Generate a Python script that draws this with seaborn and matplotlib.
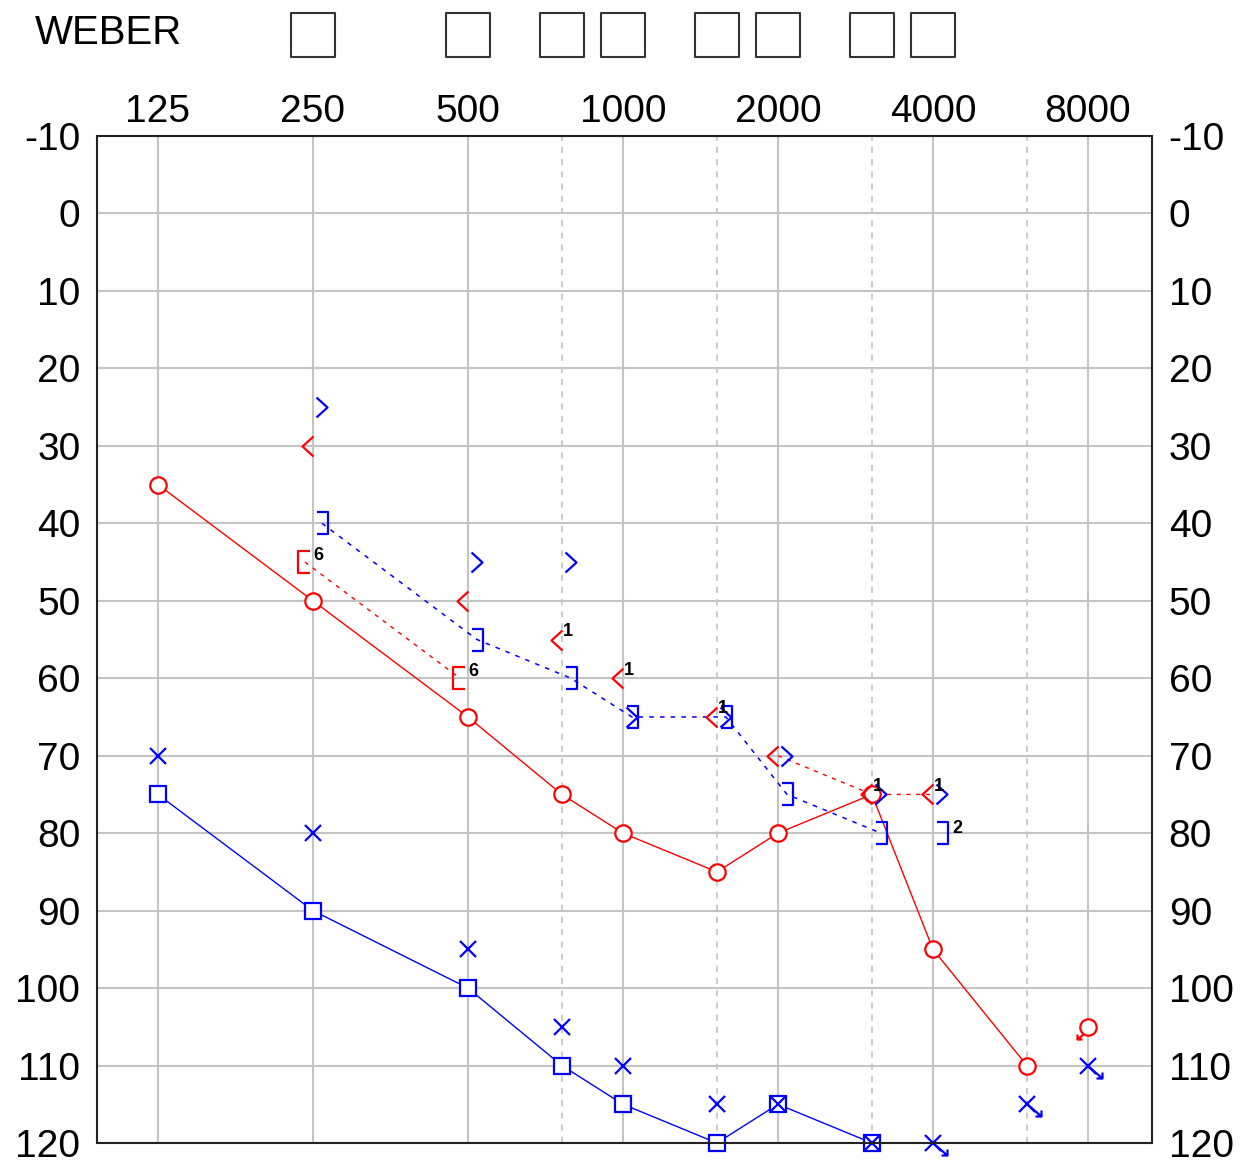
import numpy as np
import matplotlib
matplotlib.use("Agg")
import matplotlib.pyplot as plt
import seaborn as sns
from matplotlib.path import Path
from matplotlib.transforms import ScaledTranslation

# ---------------- data ----------------
major_freqs = [125, 250, 500, 1000, 2000, 4000, 8000]
major_labels = ["125", "250", "500", "1000", "2000", "4000", "8000"]
minor_freqs = [750, 1500, 3000, 6000]
db_ticks = list(range(-10, 121, 10))
db_labels = [str(v) for v in db_ticks]
weber_freqs = [250, 500, 750, 1000, 1500, 2000, 3000, 4000]

# right air conduction (red circles, solid line)
r_ac_freq = [125, 250, 500, 750, 1000, 1500, 2000, 3000, 4000, 6000]
r_ac_db = [35, 50, 65, 75, 80, 85, 80, 75, 95, 110]
r_ac_nr_freq = [8000]
r_ac_nr_db = [105]

# left masked air conduction (blue squares, solid line)
l_mac_freq = [125, 250, 500, 750, 1000, 1500, 2000, 3000]
l_mac_db = [75, 90, 100, 110, 115, 120, 115, 120]

# left air conduction (blue X)
l_ac_freq = [125, 250, 500, 750, 1000, 1500, 2000, 3000]
l_ac_db = [70, 80, 95, 105, 110, 115, 115, 120]
l_ac_nr_freq = [4000, 6000, 8000]
l_ac_nr_db = [120, 115, 110]

# right bone conduction (red <)
r_bc_freq = [250, 500, 750, 1000, 1500, 2000, 3000, 4000]
r_bc_db = [30, 50, 55, 60, 65, 70, 75, 75]
r_bc_line_freq = [2000, 3000, 4000]
r_bc_line_db = [70, 75, 75]
r_bc_note_freq = [750, 1000, 1500, 3000, 4000]
r_bc_note_db = [55, 60, 65, 75, 75]
r_bc_note_txt = ["1", "1", "1", "1", "1"]

# right masked bone conduction (red [)
r_mbc_freq = [250, 500]
r_mbc_db = [45, 60]
r_mbc_note_txt = ["6", "6"]

# left bone conduction (blue >)
l_bc_freq = [250, 500, 750, 1000, 1500, 2000, 3000, 4000]
l_bc_db = [25, 45, 45, 65, 65, 70, 75, 75]

# left masked bone conduction (blue ])
l_mbc_freq = [250, 500, 750, 1000, 1500, 2000, 3000, 4000]
l_mbc_db = [40, 55, 60, 65, 65, 75, 80, 80]
l_mbc_line_freq = [250, 500, 750, 1000, 1500, 2000, 3000]
l_mbc_line_db = [40, 55, 60, 65, 65, 75, 80]
l_mbc_note_freq = [4000]
l_mbc_note_db = [80]
l_mbc_note_txt = ["2"]

# ---------------- style ----------------
W, H, DPI = 1243, 1167, 100
RED = "#ff0000"
BLUE = "#0000ff"
GRID = "#c4c4c4"

sns.set_style("white")
plt.rcParams["font.family"] = ["Liberation Sans", "DejaVu Sans"]
plt.rcParams["text.color"] = "black"
plt.rcParams["xtick.color"] = "black"
plt.rcParams["ytick.color"] = "black"

fig = plt.figure(figsize=(W / DPI, H / DPI), dpi=DPI)
L, R, T, B = 97, 1152, 136, 1143
ax = fig.add_axes([L / W, 1 - B / H, (R - L) / W, (B - T) / H])
XLIM = (95.2, 10651)

# audiogram frequency scale: octaves, with half-octave lines drawn slightly right
_k_log = np.log2([30, 125, 250, 500, 750, 1000, 1500, 2000, 3000, 4000, 6000, 8000, 40000])
_k_pos = _k_log + np.array([0, 0, 0, 0, 0.021, 0, 0.021, 0, 0.021, 0, 0.021, 0, 0])


def _fwd(f):
    f = np.asarray(f, float)
    return np.interp(np.log2(np.clip(f, 1e-9, None)), _k_log, _k_pos)


def _inv(p):
    p = np.asarray(p, float)
    return 2 ** np.interp(p, _k_pos, _k_log)


def px_marker(verts, codes=None):
    p = Path(np.array(verts, float), codes)
    m = np.max(np.abs(p.vertices))
    return p, 2 * m * 72 / DPI


M, LT = Path.MOVETO, Path.LINETO
mk_red_lt, ms_red_lt = px_marker([(0, 10), (-11, 0), (0, -10)])
mk_blue_gt, ms_blue_gt = px_marker([(3, 10), (14, 0), (3, -10)])
mk_blue_rb, ms_blue_rb = px_marker([(4, 11), (15, 11), (15, -11), (4, -11)])
mk_red_lb, ms_red_lb = px_marker([(-3, 11), (-15, 11), (-15, -11), (-3, -11)])
mk_x_arrow, ms_x_arrow = px_marker(
    [(0, 0), (14, -12), (14, -6), (14, -12), (8, -12)], [M, LT, M, LT, LT])
mk_o_arrow, ms_o_arrow = px_marker(
    [(-5, -7), (-11, -12), (-11, -7), (-11, -12), (-6, -12)], [M, LT, M, LT, LT])

ax.set_xscale("function", functions=(_fwd, _inv))
ax.set_xlim(*XLIM)
ax.set_ylim(120, -10)

MEW = 1.6


def markers(x, y, color, marker, ms, mfc="none"):
    sns.lineplot(x=x, y=y, ax=ax, color=color, linestyle="none", marker=marker,
                 markersize=ms, markerfacecolor=mfc, markeredgecolor=color,
                 markeredgewidth=MEW, errorbar=None, sort=False)


def line(x, y, color, ls, lw, dx_px=0.0):
    sns.lineplot(x=x, y=y, ax=ax, color=color, linestyle=ls, linewidth=lw,
                 errorbar=None, sort=False)
    if dx_px:
        ln = ax.lines[-1]
        ln.set_transform(ax.transData + ScaledTranslation(dx_px / DPI, 0, fig.dpi_scale_trans))


# connecting lines
line(r_ac_freq, r_ac_db, RED, "-", 1.0)
line(l_mac_freq, l_mac_db, BLUE, "-", 1.0)
line(r_mbc_freq, r_mbc_db, RED, (0, (3, 4)), 1.0, dx_px=-8)
line(r_bc_line_freq, r_bc_line_db, RED, (0, (3, 4)), 1.0)
line(l_mbc_line_freq, l_mbc_line_db, BLUE, (0, (3, 4)), 1.1, dx_px=9)

# symbols
markers(r_ac_freq, r_ac_db, RED, "o", 11.8, mfc="white")
markers(r_ac_nr_freq, r_ac_nr_db, RED, "o", 11.8, mfc="white")
markers(r_ac_nr_freq, r_ac_nr_db, RED, mk_o_arrow, ms_o_arrow)
markers(l_mac_freq, l_mac_db, BLUE, "s", 11.8, mfc="white")
markers(l_ac_freq, l_ac_db, BLUE, "x", 11.8)
markers(l_ac_nr_freq, l_ac_nr_db, BLUE, "x", 11.8)
markers(l_ac_nr_freq, l_ac_nr_db, BLUE, mk_x_arrow, ms_x_arrow)
markers(r_bc_freq, r_bc_db, RED, mk_red_lt, ms_red_lt)
markers(r_mbc_freq, r_mbc_db, RED, mk_red_lb, ms_red_lb)
markers(l_bc_freq, l_bc_db, BLUE, mk_blue_gt, ms_blue_gt)
markers(l_mbc_freq, l_mbc_db, BLUE, mk_blue_rb, ms_blue_rb)

for ln in ax.lines:
    ln.set_clip_on(False)

# small notes
PT = 72 / DPI
NOTE = dict(ha="left", va="center", fontsize=13, fontweight="bold", color="black",
            textcoords="offset points")
for f, d, t in zip(r_bc_note_freq, r_bc_note_db, r_bc_note_txt):
    ax.annotate(t, (f, d), xytext=(1 * PT, 8 * PT), **NOTE)
for f, d, t in zip(r_mbc_freq, r_mbc_db, r_mbc_note_txt):
    ax.annotate(t, (f, d), xytext=(0 * PT, 7 * PT), **NOTE)
for f, d, t in zip(l_mbc_note_freq, l_mbc_note_db, l_mbc_note_txt):
    ax.annotate(t, (f, d), xytext=(19 * PT, 5 * PT), **NOTE)

# axes, ticks, grid
ax.set_xticks(major_freqs)
ax.set_xticklabels(major_labels)
ax.set_xticks(minor_freqs, minor=True)
ax.set_xticklabels([""] * len(minor_freqs), minor=True)
ax.set_yticks(db_ticks)
ax.set_yticklabels(db_labels)
ax.set_xlabel("")
ax.set_ylabel("")
ax.xaxis.set_ticks_position("top")
ax.tick_params(axis="x", which="both", length=0, pad=4, labelsize=28,
               labeltop=True, labelbottom=False, labelcolor="black")
ax.tick_params(axis="y", which="both", length=0, pad=12, labelsize=28,
               labelleft=True, labelright=True, labelcolor="black")
ax.set_axisbelow(True)
ax.grid(True, which="major", axis="both", color=GRID, linewidth=1.5)
ax.grid(True, which="minor", axis="x", color="#bdbdbd", linewidth=1.1,
        linestyle=(0, (4, 4)))
for sp in ax.spines.values():
    sp.set_color("#222222")
    sp.set_linewidth(1.5)

# WEBER row
axw = fig.add_axes([L / W, 1 - 70 / H, (R - L) / W, 70 / H])
axw.set_xscale("function", functions=(_fwd, _inv))
axw.set_xlim(*XLIM)
axw.set_ylim(0, 1)
sns.scatterplot(x=weber_freqs, y=[0.507] * len(weber_freqs), ax=axw, marker="s",
                s=31.8 ** 2, facecolor="white", edgecolor="#333333", linewidth=1.5)
axw.axis("off")
fig.text(35 / W, 1 - 33 / H, "WEBER", ha="left", va="center", fontsize=29, color="black")

fig.savefig("out.png", dpi=DPI)
